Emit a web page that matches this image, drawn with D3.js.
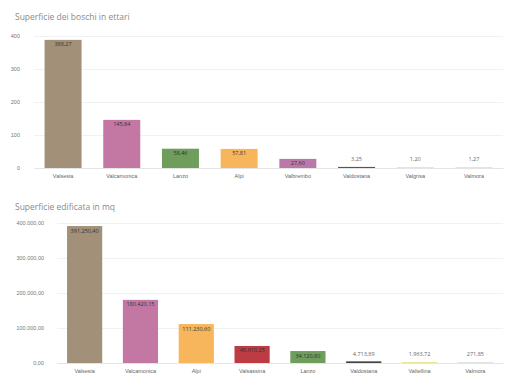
<!DOCTYPE html>
<html>
<head>
<meta charset="utf-8">
<script src="https://cdn.jsdelivr.net/npm/d3@7"></script>
<style>
  html, body { margin: 0; padding: 0; background: #fff; }
  svg { display: block; font-family: "Open Sans", "Noto Sans", sans-serif; }
</style>
</head>
<body>
<svg id="chart" width="512" height="377"></svg>
<script>
// Forest area (hectares) by area
const forestCategories = ["Valsesia", "Valcamonica", "Lanzo", "Alpi", "Valbrembo", "Valdostana", "Valgrisa", "Valmora"];
const forestValues = [388.27, 145.84, 58.46, 57.81, 27.60, 3.25, 1.20, 1.27];
const forestColors = ["#a39079", "#c378a3", "#6e9d5c", "#f7b65c", "#b97aaa", "#555555", "#dcdcdc", "#dcdcdc"];
const forestTicks = [0, 100, 200, 300, 400];

// Built-up surface (square metres) by area
const builtCategories = ["Valsesia", "Valcamonica", "Alpi", "Valsassina", "Lanzo", "Valdostana", "Valtellina", "Valmora"];
const builtValues = [391250.40, 180420.15, 111230.60, 48610.25, 34120.80, 4713.89, 1963.72, 271.85];
const builtColors = ["#a39079", "#c378a3", "#f7b65c", "#bd3b43", "#6e9d5c", "#444444", "#e6e07a", "#dcdcdc"];
const builtTicks = [0, 100000, 200000, 300000, 400000];

const itLocale = d3.formatLocale({ decimal: ",", thousands: ".", grouping: [3], currency: ["€", ""] });
const fmt2 = itLocale.format(",.2f");

const svg = d3.select("#chart");

function drawPanel(cfg) {
  const g = svg.append("g");

  g.append("text")
    .attr("x", 15).attr("y", cfg.titleY)
    .attr("font-size", 8.5).attr("fill", "#8a8a8a")
    .text(cfg.title);

  const x = d3.scaleBand().domain(cfg.categories).range([cfg.left, 503]).paddingInner(0.37).paddingOuter(0.18);
  const y = d3.scaleLinear().domain([0, cfg.max]).range([cfg.bottom, cfg.bottom - cfg.plotH]);

  // gridlines + tick labels
  const yAxis = d3.axisLeft(y).tickValues(cfg.ticks).tickSize(-(503 - cfg.left)).tickFormat(cfg.tickFmt);
  const ay = g.append("g").attr("transform", `translate(${cfg.left},0)`).call(yAxis);
  ay.select(".domain").remove();
  ay.selectAll(".tick line").attr("stroke", "#eeeeee").attr("stroke-width", 0.8);
  ay.selectAll(".tick text").attr("x", -cfg.labelGap).attr("font-size", 5.5).attr("fill", "#777");

  // bars
  g.selectAll("rect.bar").data(cfg.values).join("rect")
    .attr("class", "bar")
    .attr("x", (d, i) => x(cfg.categories[i]))
    .attr("width", x.bandwidth())
    .attr("y", d => Math.min(y(d), cfg.bottom - 0.8))
    .attr("height", d => Math.max(cfg.bottom - y(d), 0.8))
    .attr("fill", (d, i) => cfg.colors[i]);

  // value labels: inside bars tall enough, above the tiny ones
  const inside = d => (cfg.bottom - y(d)) > 6;
  g.selectAll("text.val").data(cfg.values).join("text")
    .attr("class", "val")
    .attr("x", (d, i) => x(cfg.categories[i]) + x.bandwidth() / 2)
    .attr("y", d => inside(d) ? y(d) + 6.5 : cfg.bottom - 7)
    .attr("text-anchor", "middle")
    .attr("font-size", 5.5)
    .attr("fill", d => inside(d) ? "#333" : "#666")
    .text(d => fmt2(d));

  // category labels
  const xAxis = d3.axisBottom(x).tickSize(0).tickPadding(6);
  const ax = g.append("g").attr("transform", `translate(0,${cfg.bottom})`).call(xAxis);
  ax.select(".domain").attr("stroke", "#e4e4e4");
  ax.selectAll(".tick text").attr("font-size", 5.5).attr("fill", "#666");
}

drawPanel({
  title: "Superficie dei boschi in ettari",
  titleY: 20,
  categories: forestCategories, values: forestValues, colors: forestColors,
  ticks: forestTicks, max: 400, left: 34, bottom: 168, plotH: 132, labelGap: 14,
  tickFmt: d3.format("d")
});

drawPanel({
  title: "Superficie edificata in mq",
  titleY: 210,
  categories: builtCategories, values: builtValues, colors: builtColors,
  ticks: builtTicks, max: 400000, left: 57, bottom: 363, plotH: 140, labelGap: 13,
  tickFmt: d => fmt2(d)
});
</script>
</body>
</html>
